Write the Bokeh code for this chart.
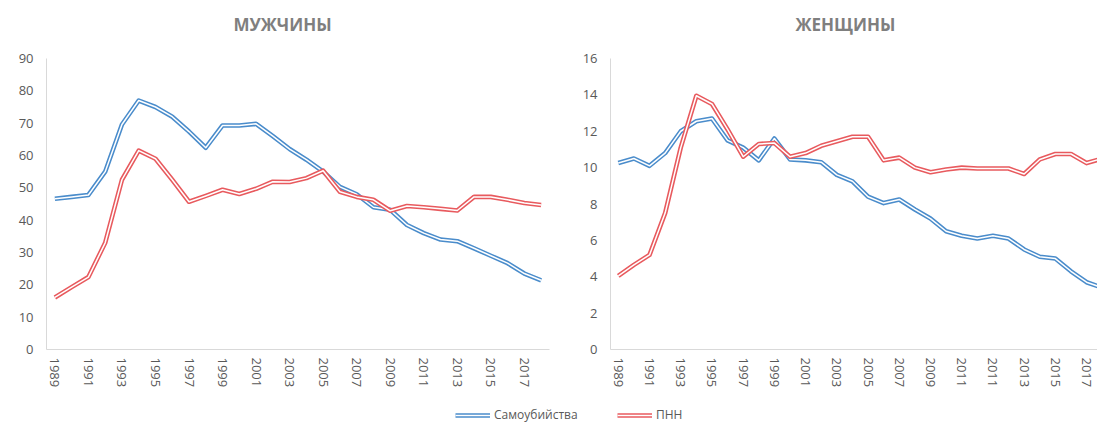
from bokeh.plotting import figure
from bokeh.layouts import column, row
from bokeh.models import Range1d, FixedTicker, Legend, LegendItem, Label
from bokeh.embed import file_html
from bokeh.resources import INLINE

# ---------------- data ----------------
years_m = [1989, 1990, 1991, 1992, 1993, 1994, 1995, 1996, 1997, 1998,
           1999, 2000, 2001, 2002, 2003, 2004, 2005, 2006, 2007, 2008,
           2009, 2010, 2011, 2012, 2013, 2014, 2015, 2016, 2017, 2018]
suicide_m = [46.6, 47.2, 47.8, 55.0, 69.6, 77.0, 75.0, 72.0, 67.4, 62.4,
             69.3, 69.3, 69.8, 66.0, 62.0, 58.7, 55.0, 50.3, 48.0, 44.0,
             43.2, 38.5, 36.0, 34.0, 33.5, 31.3, 29.0, 26.7, 23.5, 21.4]
pnn_m = [16.1, 19.3, 22.4, 33.0, 52.5, 61.5, 59.0, 52.5, 45.7, 47.5,
         49.4, 48.1, 49.7, 51.9, 51.8, 53.0, 55.3, 48.8, 47.2, 46.3,
         42.9, 44.4, 44.0, 43.5, 43.0, 47.2, 47.2, 46.3, 45.3, 44.7]

labels_f = ["1989", "1990", "1991", "1992", "1993", "1994", "1995", "1996",
            "1997", "1998", "1999", "2000", "2001", "2002", "2003", "2004",
            "2005", "2006", "2007", "2008", "2009", "2010", "2011", "2010",
            "2011", "2012", "2013", "2014", "2015", "2016", "2017", "2018"]
suicide_f = [10.25, 10.5, 10.1, 10.8, 12.0, 12.55, 12.7, 11.5, 11.1, 10.4,
             11.6, 10.45, 10.4, 10.3, 9.6, 9.25, 8.4, 8.05, 8.25, 7.7,
             7.2, 6.5, 6.25, 6.1, 6.25, 6.1, 5.5, 5.1, 5.0, 4.3, 3.7, 3.4]
pnn_f = [4.05, 4.65, 5.2, 7.5, 11.1, 13.95, 13.5, 12.1, 10.6, 11.3,
         11.35, 10.6, 10.8, 11.2, 11.45, 11.7, 11.7, 10.4, 10.55, 10.0,
         9.75, 9.9, 10.0, 9.95, 9.95, 9.95, 9.65, 10.45, 10.75, 10.75, 10.25, 10.5]

series_names = ["Самоубийства", "ПНН"]
titles = ["МУЖЧИНЫ", "ЖЕНЩИНЫ"]

BLUE = "#4a8ccb"
RED = "#e85a5e"
FONT = "Open Sans"
TICK_COLOR = "#595959"
AXIS_COLOR = "#d9d9d9"


def dline(p, x, y, color):
    r1 = p.line(x, y, line_color=color, line_width=4.6, line_join="round")
    r2 = p.line(x, y, line_color="white", line_width=1.5, line_join="round")
    return [r1, r2]


def bare(p):
    p.outline_line_color = None
    p.xgrid.grid_line_color = None
    p.ygrid.grid_line_color = None


def style(p):
    bare(p)
    for ax in (p.xaxis[0], p.yaxis[0]):
        ax.axis_line_color = AXIS_COLOR
        ax.major_tick_line_color = None
        ax.minor_tick_line_color = None
        ax.major_tick_out = 0
        ax.major_tick_in = 0
        ax.major_label_text_font = FONT
        ax.major_label_text_font_size = "13px"
        ax.major_label_text_color = TICK_COLOR
    p.yaxis[0].major_label_standoff = 13
    p.xaxis[0].major_label_standoff = 8
    p.xaxis[0].major_label_orientation = "vertical"


# ---------------- title strip ----------------
pt = figure(width=1097, height=46, output_backend="svg", toolbar_location=None,
            x_range=Range1d(0, 1097), y_range=Range1d(0, 46),
            min_border=0, x_axis_location=None, y_axis_location=None)
bare(pt)
for txt, cx in ((titles[0], 282), (titles[1], 845)):
    pt.add_layout(Label(x=cx, y=22, text=txt, text_align="center",
                        text_baseline="middle", text_font=FONT,
                        text_font_size="17px", text_font_style="bold",
                        text_color="#7f7f7f"))

# ---------------- men ----------------
p1 = figure(width=560, height=349, output_backend="svg", toolbar_location=None,
            x_range=Range1d(years_m[0] - 0.5, years_m[-1] + 0.5),
            y_range=Range1d(0, 90), min_border_left=46, min_border_right=11,
            min_border_top=12, min_border_bottom=46)
dline(p1, years_m, suicide_m, BLUE)
dline(p1, years_m, pnn_m, RED)
style(p1)
p1.xaxis[0].ticker = FixedTicker(ticks=years_m[::2])
p1.yaxis[0].ticker = FixedTicker(ticks=[0, 10, 20, 30, 40, 50, 60, 70, 80, 90])

# ---------------- women ----------------
idx_f = list(range(len(labels_f)))
p2 = figure(width=537, height=349, output_backend="svg", toolbar_location=None,
            x_range=Range1d(-0.5, 30.7),
            y_range=Range1d(0, 16), min_border_left=50, min_border_right=0,
            min_border_top=12, min_border_bottom=46)
dline(p2, idx_f, suicide_f, BLUE)
dline(p2, idx_f, pnn_f, RED)
style(p2)
p2.xaxis[0].ticker = FixedTicker(ticks=idx_f[::2])
p2.xaxis[0].major_label_overrides = {i: labels_f[i] for i in idx_f[::2]}
p2.yaxis[0].ticker = FixedTicker(ticks=[0, 2, 4, 6, 8, 10, 12, 14, 16])

# ---------------- legend strip ----------------
pl = figure(width=1097, height=41, output_backend="svg", toolbar_location=None,
            x_range=Range1d(0, 1), y_range=Range1d(0, 1),
            min_border=0, x_axis_location=None, y_axis_location=None)
bare(pl)
rb = dline(pl, [-5, -4], [-5, -4], BLUE)
rr = dline(pl, [-5, -4], [-5, -4], RED)
for rends, name, xloc in ((rb, series_names[0], 455), (rr, series_names[1], 617)):
    lg = Legend(items=[LegendItem(label=name, renderers=rends)],
                location=(xloc, 13), padding=0, margin=0, spacing=0,
                glyph_width=35, glyph_height=14, label_height=14,
                label_standoff=4, border_line_color=None,
                background_fill_alpha=0,
                label_text_font=FONT, label_text_font_size="12px",
                label_text_color=TICK_COLOR)
    pl.add_layout(lg, "center")

layout = column(pt, row(p1, p2), pl)
open("out.html", "w").write(file_html(layout, INLINE))
